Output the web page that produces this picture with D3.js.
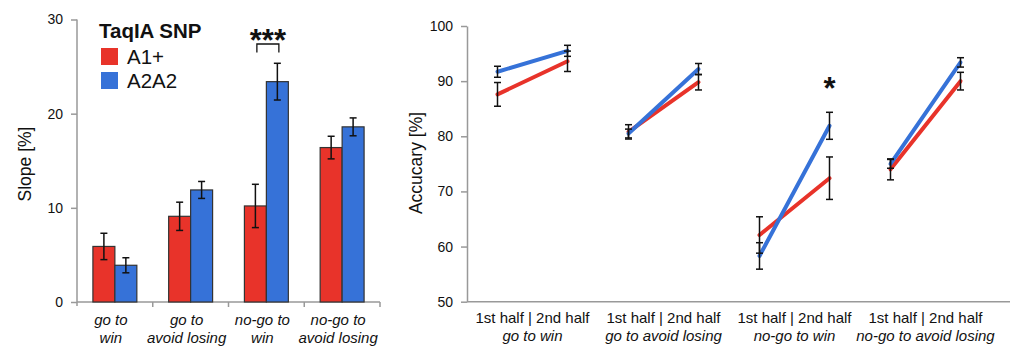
<!DOCTYPE html>
<meta charset="utf-8">
<style>
  body { margin: 0; background: #fff; }
  svg { font-family: "Liberation Sans", Arial, sans-serif; }
  .axis path, .axis line { stroke: #999; stroke-width: 1.5; fill: none; }
  .tick text { font-size: 14px; fill: #111; }
</style>
<svg id="chart" width="1012" height="347"></svg>
<script src="https://cdn.jsdelivr.net/npm/d3@7/dist/d3.min.js"></script>
<script>

// ----------------------------------------------------------------------------
//                               DATA
// ----------------------------------------------------------------------------
var categories = ["go to win", "go to avoid losing", "no-go to win", "no-go to avoid losing"];
var barLabels = [["go to", "win"], ["go to", "avoid losing"], ["no-go to", "win"], ["no-go to", "avoid losing"]];
var groups = ["A1+", "A2A2"];

// left panel: slope [%]
var slopeA1 = [5.9, 9.1, 10.2, 16.4];
var slopeA1Err = [1.4, 1.5, 2.3, 1.2];
var slopeA2 = [3.9, 11.9, 23.4, 18.6];
var slopeA2Err = [0.8, 0.9, 1.95, 0.95];
var slopeTicks = [0, 10, 20, 30];

// right panel: accuracy [%], 1st half and 2nd half
var accA1First = [87.6, 80.8, 62.1, 74.0];
var accA1FirstErr = [2.15, 1.3, 3.3, 1.9];
var accA1Second = [93.6, 89.8, 72.4, 90.0];
var accA1SecondErr = [1.85, 1.4, 3.85, 1.6];
var accA2First = [91.7, 80.5, 58.3, 75.0];
var accA2FirstErr = [1.0, 0.8, 2.4, 0.8];
var accA2Second = [95.5, 92.2, 81.9, 93.4];
var accA2SecondErr = [1.0, 1.0, 2.45, 0.85];
var accTicks = [50, 60, 70, 80, 90, 100];
var halfLabel = "1st half | 2nd half";

var colors = { "A1+": "#e8332a", "A2A2": "#3672d8" };

var svg = d3.select("#chart");

// ----------------------------------------------------------------------------
//                             LEFT: BARS
// ----------------------------------------------------------------------------
var yL = d3.scaleLinear().domain([0, 30]).range([302, 19.5]);
var xL = d3.scaleBand().domain(categories).range([77, 380]);
var barW = xL.bandwidth() * 0.29;

var left = svg.append("g");

// y axis
left.append("g").attr("class", "axis")
    .attr("transform", "translate(77,0)")
    .call(d3.axisLeft(yL).tickValues(slopeTicks).tickSize(6).tickPadding(8).tickSizeOuter(0))
    .call(function(g) { g.select(".domain").attr("d", "M0," + yL(30) + "V" + (yL(0) + 4)); });

// x axis: ticks at band edges
left.append("line")
    .attr("x1", 77).attr("x2", 380).attr("y1", yL(0)).attr("y2", yL(0))
    .attr("stroke", "#999").attr("stroke-width", 1.5);
left.selectAll(".xtick").data(categories).enter().append("line")
    .attr("x1", function(d) { return xL(d) + xL.bandwidth(); })
    .attr("x2", function(d) { return xL(d) + xL.bandwidth(); })
    .attr("y1", yL(0)).attr("y2", yL(0) + 5)
    .attr("stroke", "#999").attr("stroke-width", 1.5);

var bars = [];
categories.forEach(function(c, i) {
  bars.push({ cat: c, grp: "A1+", v: slopeA1[i], e: slopeA1Err[i], off: -barW });
  bars.push({ cat: c, grp: "A2A2", v: slopeA2[i], e: slopeA2Err[i], off: 0 });
});

left.selectAll(".bar").data(bars).enter().append("rect")
    .attr("x", function(d) { return xL(d.cat) + xL.bandwidth() / 2 + d.off; })
    .attr("y", function(d) { return yL(d.v); })
    .attr("width", barW)
    .attr("height", function(d) { return yL(0) - yL(d.v); })
    .attr("fill", function(d) { return colors[d.grp]; })
    .attr("stroke", "#333").attr("stroke-width", 1.2);

// error bars
function errorBar(g, x, yTop, yBot, cap) {
  g.append("line").attr("x1", x).attr("x2", x).attr("y1", yTop).attr("y2", yBot);
  g.append("line").attr("x1", x - cap).attr("x2", x + cap).attr("y1", yTop).attr("y2", yTop);
  g.append("line").attr("x1", x - cap).attr("x2", x + cap).attr("y1", yBot).attr("y2", yBot);
}
var errL = left.append("g").attr("stroke", "#111").attr("stroke-width", 1.5);
bars.forEach(function(d) {
  var cx = xL(d.cat) + xL.bandwidth() / 2 + d.off + barW / 2;
  errorBar(errL, cx, yL(d.v + d.e), yL(d.v - d.e), 3.5);
});

// category labels
var lab = left.selectAll(".blab").data(categories).enter().append("text")
    .attr("text-anchor", "middle")
    .attr("font-size", 15).attr("font-style", "italic").attr("fill", "#111");
lab.selectAll("tspan").data(function(d, i) { return barLabels[i].map(function(t) { return { t: t, c: d }; }); })
  .enter().append("tspan")
    .attr("x", function(d) { return xL(d.c) + xL.bandwidth() / 2 - 4; })
    .attr("y", function(d, j) { return 325 + j * 18; })
    .text(function(d) { return d.t; });

// y label
left.append("text")
    .attr("transform", "translate(31,164) rotate(-90)")
    .attr("text-anchor", "middle").attr("font-size", 17.5).attr("fill", "#111")
    .text("Slope [%]");

// legend
left.append("text").attr("x", 99).attr("y", 38)
    .attr("font-size", 20.5).attr("font-weight", "bold").attr("fill", "#111")
    .text("TaqIA SNP");
var leg = left.selectAll(".leg").data(groups).enter().append("g")
    .attr("transform", function(d, i) { return "translate(101," + (48 + i * 24) + ")"; });
leg.append("rect").attr("width", 17).attr("height", 17)
    .attr("fill", function(d) { return colors[d]; });
leg.append("text").attr("x", 26).attr("y", 16)
    .attr("font-size", 20.5).attr("fill", "#111")
    .text(function(d) { return d; });

// significance
var sigC = xL("no-go to win") + xL.bandwidth() / 2;
left.append("path")
    .attr("d", "M" + (sigC - 9.5) + "," + yL(26.5) + "V" + yL(27.4) + "H" + (sigC + 12.5) + "V" + yL(26.5))
    .attr("fill", "none").attr("stroke", "#111").attr("stroke-width", 1.3);
left.append("text").attr("x", sigC + 1.5).attr("y", 51)
    .attr("text-anchor", "middle").attr("font-size", 31).attr("font-weight", "bold").attr("fill", "#111")
    .text("***");

// ----------------------------------------------------------------------------
//                             RIGHT: LINES
// ----------------------------------------------------------------------------
var yR = d3.scaleLinear().domain([50, 100]).range([301.7, 26]);
var xR = d3.scaleBand().domain(categories).range([467, 991]);
var halfOff = 35;

var right = svg.append("g");

right.append("g").attr("class", "axis")
    .attr("transform", "translate(467,0)")
    .call(d3.axisLeft(yR).tickValues(accTicks).tickSize(6).tickPadding(8).tickSizeOuter(0));
right.append("line")
    .attr("x1", 467).attr("x2", 1010).attr("y1", yR(50)).attr("y2", yR(50))
    .attr("stroke", "#999").attr("stroke-width", 1.5);

var series = [
  { grp: "A1+", a: accA1First, ae: accA1FirstErr, b: accA1Second, be: accA1SecondErr },
  { grp: "A2A2", a: accA2First, ae: accA2FirstErr, b: accA2Second, be: accA2SecondErr }
];

series.forEach(function(s) {
  categories.forEach(function(c, i) {
    var cx = xR(c) + xR.bandwidth() / 2;
    right.append("line")
        .attr("x1", cx - halfOff).attr("y1", yR(s.a[i]))
        .attr("x2", cx + halfOff).attr("y2", yR(s.b[i]))
        .attr("stroke", colors[s.grp]).attr("stroke-width", 4).attr("stroke-linecap", "round");
  });
});

var errR = right.append("g").attr("stroke", "#111").attr("stroke-width", 1.5);
series.forEach(function(s) {
  categories.forEach(function(c, i) {
    var cx = xR(c) + xR.bandwidth() / 2;
    errorBar(errR, cx - halfOff, yR(s.a[i] + s.ae[i]), yR(s.a[i] - s.ae[i]), 3.5);
    errorBar(errR, cx + halfOff, yR(s.b[i] + s.be[i]), yR(s.b[i] - s.be[i]), 3.5);
  });
});

var rl = right.selectAll(".rlab").data(categories).enter().append("text")
    .attr("text-anchor", "middle").attr("font-size", 15).attr("fill", "#111");
rl.append("tspan")
    .attr("x", function(d) { return xR(d) + xR.bandwidth() / 2; })
    .attr("y", 323).text(halfLabel);
rl.append("tspan")
    .attr("x", function(d) { return xR(d) + xR.bandwidth() / 2; })
    .attr("y", 341).attr("font-style", "italic").text(function(d) { return d; });

right.append("text")
    .attr("transform", "translate(422,163) rotate(-90)")
    .attr("text-anchor", "middle").attr("font-size", 17.5).attr("fill", "#111")
    .text("Accucary [%]");

right.append("text")
    .attr("x", xR("no-go to win") + xR.bandwidth() / 2 + halfOff)
    .attr("y", 99)
    .attr("text-anchor", "middle").attr("font-size", 31).attr("font-weight", "bold").attr("fill", "#111")
    .text("*");

</script>
